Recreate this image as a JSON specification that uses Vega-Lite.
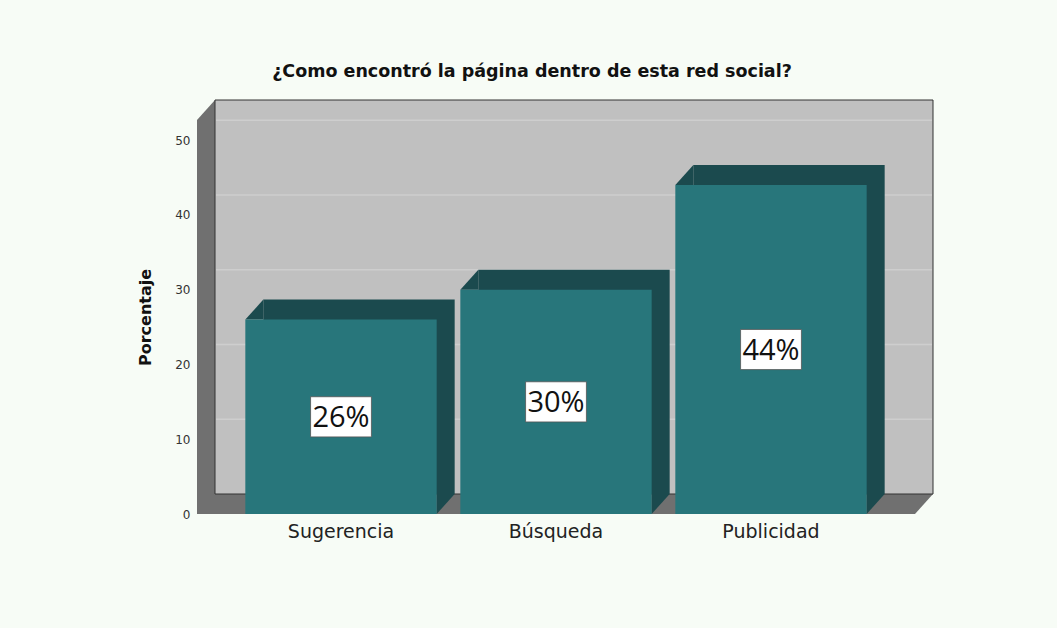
{
  "$schema": "https://vega.github.io/schema/vega-lite/v6.json",
  "autosize": {"type": "none"},
  "width": 718,
  "height": 394,
  "padding": {"left": 197, "top": 120, "right": 142, "bottom": 114},
  "background": "#f7fcf6",
  "config": {"view": {"stroke": null}},
  "title": {
    "text": "¿Como encontró la página dentro de esta red social?",
    "font": "DejaVu Sans",
    "fontSize": 17.5,
    "fontWeight": "bold",
    "color": "#111111",
    "offset": 19,
    "dx": -24
  },
  "data": {
    "values": [
      {"categoria": "Sugerencia", "porcentaje": 26, "etiqueta": "26%"},
      {"categoria": "Búsqueda", "porcentaje": 30, "etiqueta": "30%"},
      {"categoria": "Publicidad", "porcentaje": 44, "etiqueta": "44%"}
    ]
  },
  "resolve": {"scale": {"x": "independent"}, "axis": {"x": "independent"}},
  "layer": [
    {
      "data": {"values": [{"pared": "marco"}]},
      "layer": [
        {
          "mark": {"type": "rect", "fill": "#707070"},
          "encoding": {
            "x": {"datum": 0, "type": "quantitative", "scale": {"domain": [0, 1], "nice": false, "zero": false}, "axis": null},
            "x2": {"datum": 1},
            "y": {
              "datum": 0,
              "type": "quantitative",
              "scale": {"domain": [0, 52.7], "nice": false, "zero": true},
              "axis": {
                "title": "Porcentaje",
                "titleFont": "DejaVu Sans",
                "titleFontSize": 16,
                "titleFontWeight": "bold",
                "titleColor": "#111111",
                "titlePadding": 21,
                "values": [0, 10, 20, 30, 40, 50],
                "domain": false,
                "ticks": false,
                "grid": false,
                "labelFont": "DejaVu Sans",
                "labelFontSize": 12,
                "labelColor": "#333333",
                "labelPadding": 7
              }
            },
            "y2": {"datum": 52.7}
          }
        },
        {
          "mark": {"type": "point", "shape": "M0,0L18,-20L18,0Z", "size": 4, "filled": true, "fill": "#707070", "opacity": 1, "strokeWidth": 0},
          "encoding": {
            "x": {"datum": 0, "type": "quantitative"},
            "y": {"datum": 52.7, "type": "quantitative"}
          }
        },
        {
          "mark": {"type": "point", "shape": "M0,0L18,-20L0,-20Z", "size": 4, "filled": true, "fill": "#707070", "opacity": 1, "strokeWidth": 0},
          "encoding": {
            "x": {"datum": 1, "type": "quantitative"},
            "y": {"datum": 0, "type": "quantitative"}
          }
        },
        {
          "mark": {"type": "rect", "fill": "#c0c0c0", "stroke": "#333333", "strokeWidth": 1, "xOffset": 18, "x2Offset": 18, "yOffset": -20, "y2Offset": -20},
          "encoding": {
            "x": {"datum": 0, "type": "quantitative"},
            "x2": {"datum": 1},
            "y": {"datum": 0, "type": "quantitative"},
            "y2": {"datum": 52.7}
          }
        },
        {
          "data": {"values": [{"v": 10}, {"v": 20}, {"v": 30}, {"v": 40}, {"v": 50}]},
          "mark": {"type": "rule", "color": "#cecece", "strokeWidth": 1.5, "xOffset": 19, "x2Offset": 17, "yOffset": -20},
          "encoding": {
            "x": {"datum": 0, "type": "quantitative"},
            "x2": {"datum": 1},
            "y": {"field": "v", "type": "quantitative"}
          }
        }
      ]
    },
    {
      "encoding": {
        "x": {
          "field": "categoria",
          "type": "nominal",
          "sort": null,
          "scale": {"paddingInner": 0.11, "paddingOuter": 0.2248},
          "axis": {
            "title": null,
            "orient": "bottom",
            "domain": false,
            "ticks": false,
            "labelAngle": 0,
            "labelFont": "DejaVu Sans",
            "labelFontSize": 19,
            "labelColor": "#222222",
            "labelPadding": 8
          }
        }
      },
      "layer": [
        {
          "mark": {"type": "bar", "fill": "#1b4a4e", "xOffset": 18, "x2Offset": 18, "yOffset": -20, "y2Offset": -20},
          "encoding": {
            "y": {"field": "porcentaje", "type": "quantitative"}
          }
        },
        {
          "mark": {"type": "point", "shape": "M0,0L18,-20L18,0Z", "size": 4, "filled": true, "fill": "#1b4a4e", "opacity": 1, "strokeWidth": 0},
          "encoding": {
            "x": {"field": "categoria", "type": "nominal", "sort": null, "bandPosition": 0},
            "y": {"field": "porcentaje", "type": "quantitative"}
          }
        },
        {
          "mark": {"type": "point", "shape": "M0,0L18,-20L0,-20Z", "size": 4, "filled": true, "fill": "#1b4a4e", "opacity": 1, "strokeWidth": 0},
          "encoding": {
            "x": {"field": "categoria", "type": "nominal", "sort": null, "bandPosition": 1},
            "y": {"datum": 0, "type": "quantitative"}
          }
        },
        {
          "mark": {"type": "bar", "fill": "#28767b"},
          "encoding": {
            "y": {"field": "porcentaje", "type": "quantitative"}
          }
        },
        {
          "transform": [{"calculate": "datum.porcentaje / 2", "as": "medio"}],
          "mark": {"type": "point", "shape": "M-1,-0.66L1,-0.66L1,0.66L-1,0.66Z", "size": 3700, "filled": true, "fill": "#ffffff", "opacity": 1, "stroke": "#555555", "strokeWidth": 0.8},
          "encoding": {
            "y": {"field": "medio", "type": "quantitative"}
          }
        },
        {
          "transform": [{"calculate": "datum.porcentaje / 2", "as": "medio"}],
          "mark": {"type": "text", "font": "Open Sans", "fontSize": 29, "color": "#111111", "baseline": "middle", "align": "center", "dy": 1},
          "encoding": {
            "y": {"field": "medio", "type": "quantitative"},
            "text": {"field": "etiqueta"}
          }
        }
      ]
    }
  ]
}
